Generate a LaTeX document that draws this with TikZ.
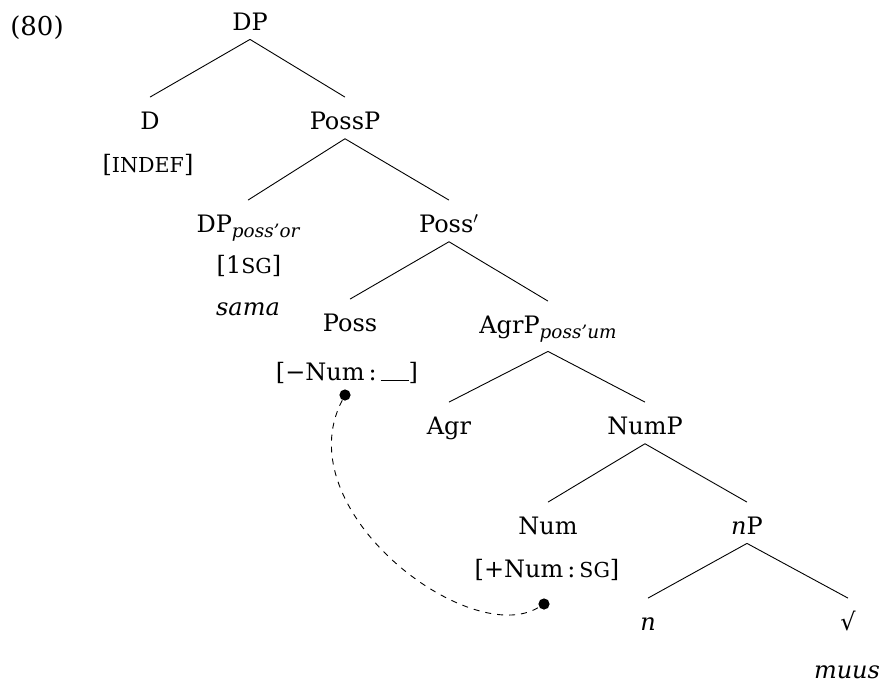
\documentclass[tikz,border=0pt]{standalone}
\usepackage{fontspec}
\setmainfont{DejaVu Serif}
\usetikzlibrary{positioning}
\newcommand{\fsc}[1]{{\fontsize{10.3}{11}\selectfont #1}}
\newcommand{\sub}[1]{\raisebox{-2.6pt}{\fontsize{9.2}{10}\selectfont\itshape #1}}
\newcommand{\blank}{\rule[-0.4pt]{14pt}{0.5pt}}
\tikzstyle{cat} = [inner xsep=0pt, inner ysep=4.5pt, text height=11.25pt, anchor=base, font=\fontsize{12}{14}\selectfont]
\tikzstyle{feat} = [inner sep=0pt, anchor=base, font=\fontsize{12}{14}\selectfont]
\tikzstyle{dot} = [circle, fill=black, inner sep=0pt, minimum size=5.6pt]
\tikzstyle{branch} = [line width=0.45pt]
\tikzstyle{link} = [dashed, line width=0.45pt]

\begin{document}
\begin{tikzpicture}[x=0.5pt, y=-0.5pt]
        \useasboundingbox (0,0) rectangle (880,681);
        % Nodes
        \node (ex) [feat, font=\fontsize{13}{14}\selectfont] at (37,35) {(80)};
        \node (dp) [cat] at (250,30) {DP};
        \node (d) [cat] at (150,129) {D};
        \node (indef) [feat] at (148,172) {[\fsc{INDEF}]};
        \node (possp) [cat] at (345,129) {PossP};

        \node (dpor) [cat] at (248,232) {DP\sub{poss’or}};
        \node (onesg) [feat] at (249,273) {[1\fsc{SG}]};
        \node (sama) [feat] at (248,315) {\itshape sama};
        \node (possbar) [cat] at (449,232) {Poss$'$};

        \node (poss) [cat] at (350,331) {Poss};
        \node (negnum) [feat] at (347,380) {[−Num\,:\,\blank]};
        \node (agrp) [cat] at (548,333) {AgrP\sub{poss’um}};

        \node (agr) [cat] at (449,434) {Agr};
        \node (nump) [cat] at (645,434) {NumP};

        \node (num) [cat] at (548,534) {Num};
        \node (posnum) [feat] at (547,577) {[+Num\,:\,\fsc{SG}]};
        \node (np) [cat] at (747,534) {\textit{n}P};

        \node (n) [cat] at (648,630) {\itshape n};
        \node (root) [cat] at (848,630) {√};
        \node (muus) [feat] at (847,678) {\itshape muus};

        \node (negdot) [dot] at (345,395) {};
        \node (posdot) [dot] at (544,604) {};

        % Connections
        \draw [branch] (dp.south) -- (d.north);
        \draw [branch] (dp.south) -- (possp.north);
        \draw [branch] (possp.south) -- (dpor.north);
        \draw [branch] (possp.south) -- (possbar.north);
        \draw [branch] (possbar.south) -- (poss.north);
        \draw [branch] (possbar.south) -- (agrp.north);
        \draw [branch] (agrp.south) -- (agr.north);
        \draw [branch] (agrp.south) -- (nump.north);
        \draw [branch] (nump.south) -- (num.north);
        \draw [branch] (nump.south) -- (np.north);
        \draw [branch] (np.south) -- (n.north);
        \draw [branch] (np.south) -- (root.north);
        \draw [link] (negdot) .. controls (285,510) and (470,650) .. (posdot); % agreement
\end{tikzpicture}
\end{document}
